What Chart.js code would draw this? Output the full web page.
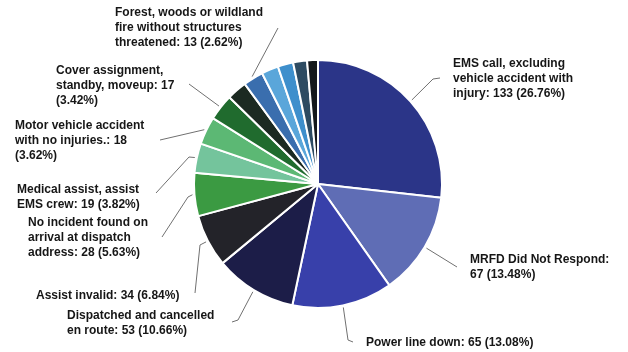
<!DOCTYPE html>
<html>
<head>
<meta charset="utf-8">
<script src="https://cdn.jsdelivr.net/npm/chart.js@4"></script>
<style>
  html, body { margin: 0; padding: 0; background: #fff; }
  #chart { display: block; }
</style>
</head>
<body>
<canvas id="chart" width="628" height="352"></canvas>
<script>
// Incident types, largest first; empty names are slices left without a label
const categories = [
    'EMS call, excluding vehicle accident with injury',
    'MRFD Did Not Respond',
    'Power line down',
    'Dispatched and cancelled en route',
    'Assist invalid',
    'No incident found on arrival at dispatch address',
    'Medical assist, assist EMS crew',
    'Motor vehicle accident with no injuries.',
    'Cover assignment, standby, moveup',
    '',
    'Forest, woods or wildland fire without structures threatened',
    '', '', '', '',
];
const counts = [133, 67, 65, 53, 34, 28, 19, 18, 17, 13, 13, 11, 10, 9, 7];

// words per printed line for each label
const wordBreaks = [
    [3, 3, 3],
    [4, 2],
    null,
    [3, 4],
    null,
    [4, 3, 3],
    [3, 4],
    [3, 4, 1],
    [2, 3, 1],
    null,
    [4, 3, 3],
    null, null, null, null,
];

const sliceColors = [
    '#2b3588', '#5f6db5', '#3840aa', '#1c1d48', '#232329',
    '#3b9a42', '#74c49c', '#5cb874', '#206b2e', '#1c2a22',
    '#3a6eae', '#5aa6da', '#3e8fcc', '#2d4b62', '#14181c',
];

// text anchor (left x, first line middle y) and leader line bends
const labelLayout = [
    { x: 453, y: 64, path: [[433, 79], [440, 78]] },
    { x: 470, y: 260, path: [[457, 267]] },
    { x: 366, y: 343, path: [[348, 340], [353, 342]] },
    { x: 67, y: 316, path: [[238, 320], [232, 322]] },
    { x: 36, y: 296, path: [[200, 245], [195, 293]] },
    { x: 28, y: 223, path: [[188, 197], [162, 237]] },
    { x: 17, y: 190, path: [[189, 157], [156, 193]] },
    { x: 15, y: 126, path: [[160, 140]] },
    { x: 56, y: 71, path: [[189, 84]] },
    null,
    { x: 115, y: 13, path: [[278, 28]] },
    null, null, null, null,
];

const total = counts.reduce((a, b) => a + b, 0);

function labelLines(i) {
    const pct = (counts[i] / total * 100).toFixed(2);
    const words = `${categories[i]}: ${counts[i]} (${pct}%)`.split(' ');
    const breaks = wordBreaks[i];
    if (!breaks) return [words.join(' ')];
    const lines = [];
    let pos = 0;
    for (const n of breaks) {
        lines.push(words.slice(pos, pos + n).join(' '));
        pos += n;
    }
    return lines;
}

const calloutLabels = {
    id: 'calloutLabels',
    afterDraw(chart) {
        const ctx = chart.ctx;
        const arcs = chart.getDatasetMeta(0).data;
        ctx.save();
        arcs.forEach((arc, i) => {
            const lay = labelLayout[i];
            if (!lay || !categories[i]) return;
            const { x, y, startAngle, endAngle, outerRadius } =
                arc.getProps(['x', 'y', 'startAngle', 'endAngle', 'outerRadius'], true);
            const mid = (startAngle + endAngle) / 2;
            const r = outerRadius + 2;

            // leader line
            ctx.strokeStyle = '#707070';
            ctx.lineWidth = 1;
            ctx.beginPath();
            ctx.moveTo(x + Math.cos(mid) * r, y + Math.sin(mid) * r);
            lay.path.forEach(([px, py]) => ctx.lineTo(px, py));
            ctx.stroke();

            // label text
            ctx.fillStyle = '#161616';
            ctx.font = 'bold 12px "Liberation Sans", Arial, sans-serif';
            ctx.textAlign = 'left';
            ctx.textBaseline = 'middle';
            labelLines(i).forEach((line, k) => {
                ctx.fillText(line, lay.x, lay.y + k * 15);
            });
        });
        ctx.restore();
    },
};

new Chart(document.getElementById('chart'), {
    type: 'pie',
    data: {
        labels: categories,
        datasets: [{
            data: counts,
            backgroundColor: sliceColors,
            borderColor: '#ffffff',
            borderWidth: 2,
        }],
    },
    options: {
        responsive: false,
        animation: false,
        layout: { padding: { left: 193, right: 185, top: 58, bottom: 42 } },
        plugins: {
            legend: { display: false },
            tooltip: { enabled: false },
        },
    },
    plugins: [calloutLabels],
});
</script>
</body>
</html>
